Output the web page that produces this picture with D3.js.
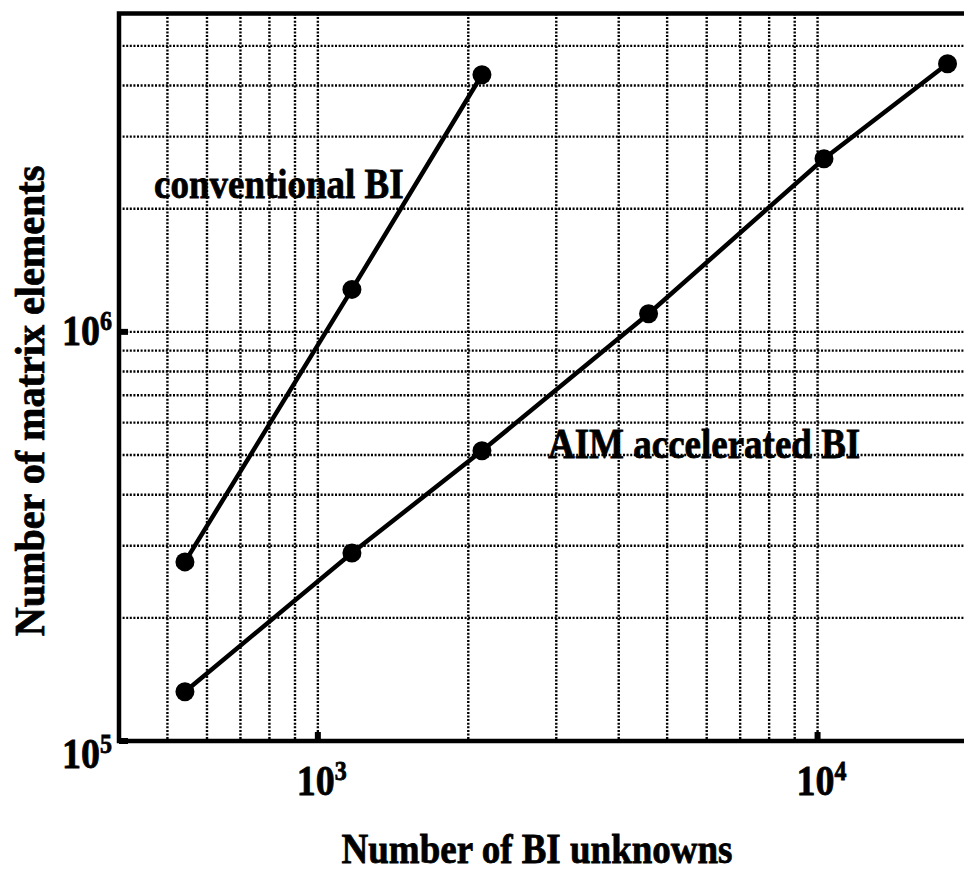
<!DOCTYPE html>
<meta charset="utf-8">
<style>
    body { margin: 0; background: #fff; }
    svg { display: block; }
    text { font-family: "Liberation Serif", "Times New Roman", serif; font-weight: bold; fill: #000; stroke: #000; stroke-width: 0.7px; }
    .grid line { stroke: #000; stroke-width: 2.4; stroke-dasharray: 2,1.6; }
    .frame { fill: none; stroke: #000; stroke-width: 4.5; }
    .line { fill: none; stroke: #000; stroke-width: 4.5; }
</style>
<svg width="964" height="871"></svg>
<script src="https://d3js.org/d3.v7.min.js"></script>
<script>
    // data
    var convN = [542, 1170, 2130];
    var convM = [2.74e5, 1.27e6, 4.25e6];
    var aimN = [542, 1170, 2130, 4590, 10300, 18200];
    var aimM = [1.32e5, 2.88e5, 5.12e5, 1.107e6, 2.65e6, 4.52e6];
    var xGrid = [500, 600, 700, 800, 900, 1000, 2000, 3000, 4000, 5000, 6000, 7000, 8000, 9000, 10000];
    var yGrid = [2e5, 3e5, 4e5, 5e5, 6e5, 7e5, 8e5, 9e5, 1e6, 2e6, 3e6, 4e6, 5e6];
    var xMajor = [1e3, 1e4];
    var yMajor = [1e5, 1e6];

    var svg = d3.select('svg');
    var pLeft = 119, pRight = 968, pTop = 13.5, pBottom = 741;
    var stretch = 1.12; // the scanned lettering is a bit taller than the font

    var x = d3.scaleLog().domain([400, 20000]).range([pLeft, pRight]);
    var y = d3.scaleLog().domain([1e5, 6e6]).range([pBottom, pTop]);

    // dotted grid
    var grid = svg.append('g').attr('class', 'grid');
    grid.selectAll('.vx').data(xGrid).enter().append('line')
        .attr('x1', d => x(d)).attr('x2', d => x(d))
        .attr('y1', pTop).attr('y2', pBottom);
    grid.selectAll('.hy').data(yGrid).enter().append('line')
        .attr('x1', pLeft).attr('x2', pRight)
        .attr('y1', d => y(d)).attr('y2', d => y(d));

    // frame: top, left, bottom (right side is cut off)
    svg.append('path').attr('class', 'frame')
        .attr('d', `M${pRight},${pTop}H${pLeft}V${pBottom}H${pRight}`);

    // major ticks (short, thick, inward)
    svg.selectAll('.xt').data(xMajor).enter().append('line')
        .attr('x1', d => x(d)).attr('x2', d => x(d))
        .attr('y1', pBottom).attr('y2', pBottom - 9)
        .attr('stroke', '#000').attr('stroke-width', 6);
    svg.selectAll('.yt').data(yMajor).enter().append('line')
        .attr('x1', pLeft).attr('x2', pLeft + 9)
        .attr('y1', d => y(d)).attr('y2', d => y(d))
        .attr('stroke', '#000').attr('stroke-width', 6);

    function place(px, py, rot) {
        return `translate(${px},${py})` + (rot ? ` rotate(${rot})` : '') + ` scale(1,${stretch})`;
    }

    // tick labels
    var xl = svg.selectAll('.xl').data(xMajor).enter().append('text')
        .attr('transform', d => place(x(d) - 21, pBottom + 54))
        .style('font-size', '38px');
    xl.append('tspan').text('10');
    xl.append('tspan').attr('dy', -13).style('font-size', '24px')
        .text(d => Math.round(Math.log10(d)));

    var yl = svg.selectAll('.yl').data(yMajor).enter().append('text')
        .attr('transform', (d, i) => place(62, y(d) + (i === 0 ? 27 : 13)))
        .style('font-size', '38px');
    yl.append('tspan').text('10');
    yl.append('tspan').attr('dy', -13).style('font-size', '24px')
        .text(d => Math.round(Math.log10(d)));

    // series
    var line = d3.line().x(d => x(d[0])).y(d => y(d[1]));
    var series = [d3.zip(convN, convM), d3.zip(aimN, aimM)];
    series.forEach(function (s) {
        svg.append('path').attr('class', 'line').attr('d', line(s));
        svg.selectAll(null).data(s).enter().append('circle')
            .attr('cx', d => x(d[0])).attr('cy', d => y(d[1]))
            .attr('r', 9.5).attr('fill', '#000');
    });

    // series labels
    svg.append('text').attr('transform', place(154, 198))
        .style('font-size', '37px').text('conventional BI');
    svg.append('text').attr('transform', place(548, 458))
        .style('font-size', '37px').text('AIM accelerated BI');

    // axis titles
    svg.append('text').attr('transform', place(537, 863))
        .attr('text-anchor', 'middle').style('font-size', '37px')
        .text('Number of BI unknowns');
    svg.append('text')
        .attr('transform', 'translate(44,401) rotate(-90) scale(1.085,1.12)')
        .attr('text-anchor', 'middle').style('font-size', '37px')
        .text('Number of matrix elements');
</script>
